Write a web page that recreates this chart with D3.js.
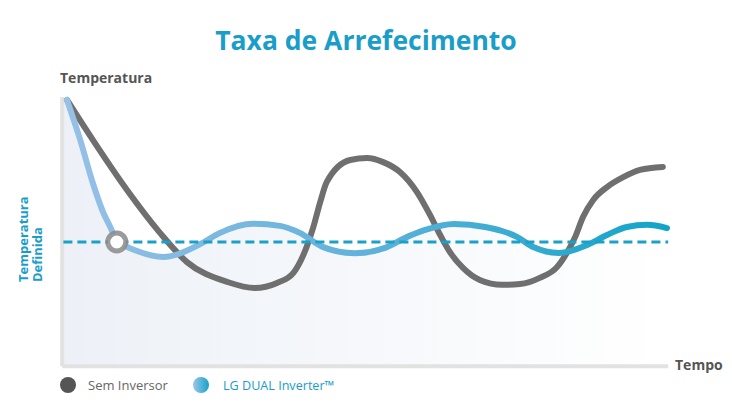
<!DOCTYPE html>
<html>
<head>
<meta charset="utf-8">
<script src="https://cdn.jsdelivr.net/npm/d3@7"></script>
<style>
  body { margin: 0; background: #fff; }
  svg { display: block; font-family: "Open Sans", sans-serif; }
</style>
</head>
<body>
<svg width="732" height="411"></svg>
<script>
// time (0-100) and temperature (0-100)
let semTime = [0, 4.3, 10, 15.5, 20, 26.7, 31.3, 35, 37.7, 41, 42.2, 43.3, 47.2, 50, 52.7, 55.5, 58.3, 60.5, 62.2, 63.8, 66, 68.8, 72.5, 75.5, 78.8, 81.7, 83.3, 84.7, 86, 87.7, 90, 92.7, 95.5, 99.3];
let semTemp = [98.9, 84, 65.3, 49.3, 38.4, 31, 28.7, 30.6, 34.3, 51.1, 60.8, 68.3, 76.5, 77.2, 75.7, 72, 64.6, 56, 48.5, 42.2, 36.2, 31.7, 29.9, 30.2, 32.5, 36.6, 41.8, 47.8, 55.2, 61.6, 66.4, 70.1, 72.8, 73.9];

let lgTime = [0, 2.2, 4.3, 6, 7.2, 8.3, 10.8, 16, 22.2, 25.5, 31, 35.5, 38.8, 42.7, 48, 53, 56.3, 59.7, 64.5, 69.7, 72.5, 75, 77.7, 82, 86.7, 90, 93.3, 96.7, 100];
let lgTemp = [98.9, 84, 67.9, 57.1, 51.5, 45.9, 43.3, 40.3, 45.1, 49.3, 52.7, 51.9, 49.3, 44, 41.7, 43.7, 47.4, 50.4, 52.6, 51.5, 50, 47.8, 44, 41.8, 44.8, 48.5, 51.5, 52.3, 51.1];

let setPoint = 45.9;
let reachTime = 8.3;

let legendLabels = ["Sem Inversor", "LG DUAL Inverter\u2122"];

var svg = d3.select("svg");
var x = d3.scaleLinear().domain([0, 100]).range([67, 667]);
var y = d3.scaleLinear().domain([0, 100]).range([365, 97]);

var semData = semTime.map(function (t, i) { return [t, semTemp[i]]; });
var lgData = lgTime.map(function (t, i) { return [t, lgTemp[i]]; });
// LG line bends sharply where it reaches the set point, so draw it in two runs
var cut = lgTime.indexOf(reachTime);
var lgDown = lgData.slice(0, cut + 1);
var lgHold = lgData.slice(cut);

var defs = svg.append("defs");
var fillGrad = defs.append("linearGradient").attr("id", "fillGrad")
    .attr("gradientUnits", "userSpaceOnUse")
    .attr("x1", x(0)).attr("x2", x(100)).attr("y1", 0).attr("y2", 0);
fillGrad.append("stop").attr("offset", "0").attr("stop-color", "#edf1f7");
fillGrad.append("stop").attr("offset", "1").attr("stop-color", "#ffffff");

var lineGrad = defs.append("linearGradient").attr("id", "lineGrad")
    .attr("gradientUnits", "userSpaceOnUse")
    .attr("x1", x(0)).attr("x2", x(100)).attr("y1", 0).attr("y2", 0);
lineGrad.append("stop").attr("offset", "0").attr("stop-color", "#97c0e6");
lineGrad.append("stop").attr("offset", "0.5").attr("stop-color", "#5fb2da");
lineGrad.append("stop").attr("offset", "1").attr("stop-color", "#12a4c8");

var dotGrad = defs.append("linearGradient").attr("id", "dotGrad");
dotGrad.append("stop").attr("offset", "0").attr("stop-color", "#9cc6ea");
dotGrad.append("stop").attr("offset", "1").attr("stop-color", "#14a3c8");

var line = d3.line()
    .x(function (d) { return x(d[0]); })
    .y(function (d) { return y(d[1]); })
    .curve(d3.curveMonotoneX);

var lgPath = line(lgDown) + line(lgHold).replace("M", "L");

// area under LG line
svg.append("path")
    .attr("d", "M" + x(-0.8) + "," + y(lgTemp[0]) + lgPath.replace("M", "L") +
        "L" + x(lgTime[lgTime.length - 1]) + "," + y(0) + "L" + x(-0.8) + "," + y(0) + "Z")
    .attr("fill", "url(#fillGrad)");

// axes
svg.append("line")
    .attr("x1", x(-0.8)).attr("x2", x(-0.8))
    .attr("y1", y(100)).attr("y2", y(-0.5))
    .attr("stroke", "#e2e2e2").attr("stroke-width", 4);
svg.append("line")
    .attr("x1", x(-0.8)).attr("x2", x(100.2))
    .attr("y1", y(-0.5)).attr("y2", y(-0.5))
    .attr("stroke", "#e2e2e2").attr("stroke-width", 4);

svg.append("path")
    .datum(semData)
    .attr("d", line)
    .attr("fill", "none")
    .attr("stroke", "#6f6f6f")
    .attr("stroke-width", 6)
    .attr("stroke-linecap", "round");

svg.append("path")
    .attr("d", lgPath)
    .attr("fill", "none")
    .attr("stroke", "url(#lineGrad)")
    .attr("stroke-width", 6)
    .attr("stroke-linecap", "round")
    .attr("stroke-linejoin", "round");

// set point
svg.append("line")
    .attr("x1", x(-0.6)).attr("x2", x(100.2))
    .attr("y1", y(setPoint)).attr("y2", y(setPoint))
    .attr("stroke", "#1ba0c8")
    .attr("stroke-width", 3)
    .attr("stroke-dasharray", "9,5");

svg.append("circle")
    .attr("cx", x(reachTime)).attr("cy", y(setPoint))
    .attr("r", 9)
    .attr("fill", "#fff")
    .attr("stroke", "#8a8a8a")
    .attr("stroke-opacity", 0.85)
    .attr("stroke-width", 5);

// texts
svg.append("text")
    .attr("x", 366).attr("y", 50)
    .attr("text-anchor", "middle")
    .attr("fill", "#1a9dc8")
    .attr("font-size", "26.5px")
    .attr("font-weight", "bold")
    .text("Taxa de Arrefecimento");

svg.append("text")
    .attr("x", 60).attr("y", 83)
    .attr("fill", "#555")
    .attr("font-size", "14px")
    .attr("font-weight", "bold")
    .text("Temperatura");

svg.append("text")
    .attr("x", 675).attr("y", 370)
    .attr("fill", "#555")
    .attr("font-size", "14px")
    .attr("font-weight", "bold")
    .text("Tempo");

var setLabel = svg.append("text")
    .attr("transform", "translate(28,282) rotate(-90)")
    .attr("fill", "#1a9dc8")
    .attr("font-size", "13px")
    .attr("font-weight", "bold");
setLabel.append("tspan").attr("x", 0).attr("y", 0).text("Temperatura");
setLabel.append("tspan").attr("x", 0).attr("y", 14).text("Definida");

// legend
var legend = svg.append("g");
legend.append("circle").attr("cx", 68).attr("cy", 385).attr("r", 8).attr("fill", "#555");
legend.append("text").attr("x", 88).attr("y", 390)
    .attr("fill", "#666").attr("font-size", "13px").text(legendLabels[0]);
legend.append("circle").attr("cx", 201).attr("cy", 385).attr("r", 8).attr("fill", "url(#dotGrad)");
legend.append("text").attr("x", 223).attr("y", 390)
    .attr("fill", "#1a9dc8").attr("font-size", "12.6px").text(legendLabels[1]);
</script>
</body>
</html>
